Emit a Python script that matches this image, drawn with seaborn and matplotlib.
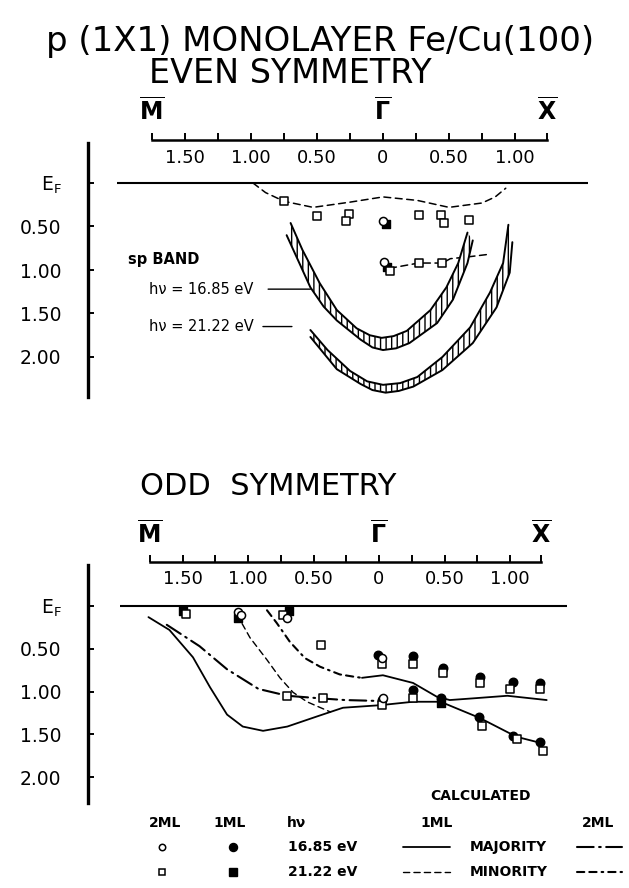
import numpy as np
import pandas as pd
import matplotlib
matplotlib.use("Agg")
import matplotlib.pyplot as plt
import seaborn as sns
from matplotlib.lines import Line2D

# ---------------------------------------------------------------- data ----
K_M, K_X = -1.75, 1.24                      # zone-boundary points (1/Angstrom)
k_ticks = [-1.75, -1.5, -1.25, -1.0, -0.75, -0.5, -0.25, 0.0,
           0.25, 0.5, 0.75, 1.0, 1.24]
k_ticklabels = ["", "1.50", "", "1.00", "", "0.50", "", "0",
                "", "0.50", "", "1.00", ""]
E_ticks = [0.0, 0.5, 1.0, 1.5, 2.0]
E_ticklabels = [r"E$_{\mathsf{F}}$", "0.50", "1.00", "1.50", "2.00"]
sym_k = [K_M, 0.0, K_X]
sym_labels = [r"$\overline{\mathbf{M}}$", r"$\overline{\mathbf{\Gamma}}$",
              r"$\overline{\mathbf{X}}$"]

# ---- EVEN symmetry ----
even_calc_k = [-0.985, -0.89, -0.75, -0.53, -0.25, 0.0, 0.26, 0.50, 0.75, 0.85, 0.93]
even_calc_E = [0.00, 0.11, 0.21, 0.28, 0.22, 0.16, 0.20, 0.28, 0.23, 0.16, 0.06]
even_link_k = [0.05, 0.27, 0.45, 0.51, 0.64, 0.80]
even_link_E = [0.98, 0.92, 0.92, 0.87, 0.85, 0.82]

even_sq2_k = [-0.75, -0.50, -0.26, -0.28, 0.27, 0.44, 0.46, 0.65, 0.05, 0.27, 0.45]
even_sq2_E = [0.21, 0.38, 0.36, 0.44, 0.37, 0.37, 0.46, 0.43, 1.01, 0.92, 0.92]
even_ci2_k = [0.00, 0.01]
even_ci2_E = [0.44, 0.91]
even_sq1_k = [0.02, 0.03]
even_sq1_E = [0.47, 0.97]

# sp bands (inner / outer edges of the hatched bands)
band1_in_k = [-0.70, -0.61, -0.48, -0.35, -0.20, -0.10, -0.01, 0.08, 0.18, 0.36, 0.48, 0.57, 0.64]
band1_in_E = [0.46, 0.77, 1.15, 1.46, 1.67, 1.75, 1.78, 1.76, 1.70, 1.46, 1.20, 0.92, 0.57]
band1_out_k = [-0.73, -0.64, -0.55, -0.45, -0.35, -0.17, -0.08, 0.00, 0.10, 0.20, 0.41, 0.53, 0.64, 0.68]
band1_out_E = [0.60, 0.90, 1.20, 1.42, 1.58, 1.80, 1.89, 1.92, 1.90, 1.84, 1.61, 1.34, 0.92, 0.66]
band2_in_k = [-0.55, -0.42, -0.25, -0.12, 0.00, 0.13, 0.26, 0.45, 0.66, 0.81, 0.91, 0.95]
band2_in_E = [1.69, 1.92, 2.16, 2.28, 2.32, 2.30, 2.23, 2.00, 1.66, 1.26, 0.92, 0.48]
band2_out_k = [-0.55, -0.35, -0.17, -0.08, 0.02, 0.12, 0.23, 0.45, 0.68, 0.86, 0.96, 0.98]
band2_out_E = [1.77, 2.14, 2.31, 2.38, 2.41, 2.39, 2.34, 2.15, 1.84, 1.43, 1.03, 0.68]

# ---- ODD symmetry : calculated ----
maj1a_k = [-1.76, -1.60, -1.42, -1.29, -1.16, -1.04, -0.885, -0.70, -0.47, -0.275,
           0.01, 0.26, 0.47, 0.77, 1.05, 1.23]
maj1a_E = [0.13, 0.28, 0.60, 0.95, 1.27, 1.41, 1.46, 1.41, 1.29, 1.19,
           1.16, 1.12, 1.12, 1.31, 1.53, 1.60]
maj1b_k = [-0.13, 0.03, 0.26, 0.44, 0.54, 0.72, 0.98, 1.28]
maj1b_E = [0.84, 0.81, 0.90, 1.06, 1.10, 1.08, 1.05, 1.10]
min1_k = [-1.084, -0.985, -0.855, -0.756, -0.656, -0.55, -0.37]
min1_E = [0.10, 0.37, 0.63, 0.84, 1.01, 1.12, 1.24]
maj2_k = [-1.62, -1.37, -1.16, -0.92, -0.70, -0.45, -0.26, -0.015]
maj2_E = [0.22, 0.47, 0.74, 0.97, 1.05, 1.08, 1.10, 1.11]
min2_k = [-0.855, -0.78, -0.68, -0.565, -0.45, -0.30, -0.18, -0.13]
min2_E = [0.05, 0.20, 0.42, 0.61, 0.71, 0.80, 0.83, 0.84]

# ---- ODD symmetry : measured ----
odd_ci1_k = [-0.01, 0.26, 0.49, 0.77, 1.02, 1.23, 0.02, 0.26, 0.47, 0.76, 1.02, 1.23]
odd_ci1_E = [0.57, 0.58, 0.73, 0.83, 0.89, 0.90, 1.10, 0.98, 1.08, 1.30, 1.52, 1.59]
odd_ci2_k = [-1.08, -1.05, -0.70, 0.02, 0.03]
odd_ci2_E = [0.07, 0.11, 0.14, 0.61, 1.08]
odd_sq2_k = [-1.47, -0.73, -0.44, 0.02, 0.26, 0.49, 0.77, 1.00, 1.23,
             -0.70, -0.43, 0.02, 0.26, 0.79, 1.05, 1.25]
odd_sq2_E = [0.09, 0.11, 0.46, 0.68, 0.68, 0.78, 0.90, 0.97, 0.97,
             1.05, 1.08, 1.16, 1.08, 1.40, 1.56, 1.70]
odd_sq1_k = [-1.50, -1.08, -0.69, 0.47]
odd_sq1_E = [0.06, 0.14, 0.06, 1.13]

# ---------------------------------------------------------------- style ----
sns.set_theme(style="white")
plt.rcParams["font.family"] = ["DejaVu Sans"]
plt.rcParams["mathtext.fontset"] = "dejavusans"
plt.rcParams["hatch.linewidth"] = 1.0
plt.rcParams["lines.dash_capstyle"] = "round"
plt.rcParams["text.color"] = "black"

LS_MIN1 = (0, (4.5, 3))
LS_MAJ2 = (0, (8, 2.6, 0.8, 2.6))
LS_MIN2 = (0, (3.5, 2.4, 3.5, 2.4, 0.8, 2.4))

OPEN_CI = dict(marker="o", s=34, color="white", edgecolor="black", linewidth=1.1)
FILL_CI = dict(marker="o", s=38, color="black", edgecolor="black", linewidth=1.0)
OPEN_SQ = dict(marker="s", s=32, color="white", edgecolor="black", linewidth=1.1)
FILL_SQ = dict(marker="s", s=32, color="black", edgecolor="black", linewidth=1.0)

W, H = 629, 888
fig = plt.figure(figsize=(W / 100, H / 100), dpi=100)
fig.patch.set_facecolor("white")


def fx(x):
    return x / W


def fy(y):
    return 1 - y / H


def add_panel(left, top, right, bottom, x0, kscale, y0, escale):
    ax = fig.add_axes([fx(left), fy(bottom), (right - left) / W, (bottom - top) / H])
    ax.set_xlim((left - x0) / kscale, (right - x0) / kscale)
    ax.set_ylim((bottom - y0) / escale, (top - y0) / escale)
    return ax


def decorate(ax, kaxis_E, spine_lo, spine_hi, sym_E, ef_lo, ef_hi):
    ax.set_facecolor("none")
    ax.grid(False)
    for s in ("top", "right"):
        ax.spines[s].set_visible(False)
    ax.spines["left"].set_bounds(spine_lo, spine_hi)
    ax.spines["left"].set_linewidth(2.4)
    ax.spines["bottom"].set_position(("data", kaxis_E))
    ax.spines["bottom"].set_bounds(K_M, K_X)
    ax.spines["bottom"].set_linewidth(1.8)
    for s in ("left", "bottom"):
        ax.spines[s].set_color("black")
    ax.set_xticks(k_ticks, k_ticklabels)
    ax.set_yticks(E_ticks, E_ticklabels)
    ax.tick_params(axis="x", bottom=True, direction="in", length=5, width=1.4,
                   pad=6, labelsize=13, colors="black")
    ax.tick_params(axis="y", left=True, direction="in", length=4, width=1.4,
                   pad=19, labelsize=13.5, colors="black")
    ax.hlines(0, ef_lo, ef_hi, color="black", lw=1.5, zorder=2)
    for k, lab in zip(sym_k, sym_labels):
        ax.text(k, sym_E, lab, ha="center", va="center", fontsize=17, color="black")


def line(ax, k, E, ls="-", lw=1.3, z=3):
    sns.lineplot(x=k, y=E, ax=ax, sort=False, estimator=None, color="black",
                 linewidth=lw, linestyle=ls, legend=False, zorder=z)


def pts(ax, k, E, style):
    sns.scatterplot(x=k, y=E, ax=ax, legend=False, zorder=6, **style)


def band(ax, k_in, E_in, k_out, E_out):
    ax.fill(np.r_[k_in, k_out[::-1]], np.r_[E_in, E_out[::-1]],
            facecolor="white", edgecolor="black", linewidth=0, hatch="|||", zorder=4)
    line(ax, k_in, E_in, lw=1.4, z=5)
    line(ax, k_out, E_out, lw=1.4, z=5)


# ---------------------------------------------------------------- titles ----
fig.text(fx(320), fy(51), "p (1X1) MONOLAYER Fe/Cu(100)", ha="center",
         va="baseline", fontsize=24.5, color="black")
fig.text(fx(290), fy(83), "EVEN SYMMETRY", ha="center", va="baseline",
         fontsize=24, color="black")
fig.text(fx(268), fy(495), "ODD  SYMMETRY", ha="center", va="baseline",
         fontsize=22, color="black")

# ---------------------------------------------------------------- top panel ----
axt = add_panel(88, 95, 600, 402, 383, 132, 183, 87)
line(axt, even_calc_k, even_calc_E, ls=LS_MIN1, lw=1.1)
line(axt, even_link_k, even_link_E, ls=LS_MIN1, lw=1.1)
band(axt, np.array(band1_in_k), np.array(band1_in_E),
     np.array(band1_out_k), np.array(band1_out_E))
band(axt, np.array(band2_in_k), np.array(band2_in_E),
     np.array(band2_out_k), np.array(band2_out_E))
pts(axt, even_sq1_k, even_sq1_E, FILL_SQ)
pts(axt, even_sq2_k, even_sq2_E, OPEN_SQ)
pts(axt, even_ci2_k, even_ci2_E, OPEN_CI)
axt.text(-1.93, 0.885, "sp BAND", ha="left", va="center", fontsize=10.5,
         fontweight="bold", color="black")
axt.annotate("h\u03bd = 16.85 eV", xy=(-0.55, 1.22), xytext=(-1.77, 1.22),
             ha="left", va="center", fontsize=10.5, color="black",
             arrowprops=dict(arrowstyle="-", lw=1.0, color="black",
                             shrinkA=8, shrinkB=0))
axt.annotate("h\u03bd = 21.22 eV", xy=(-0.69, 1.65), xytext=(-1.77, 1.65),
             ha="left", va="center", fontsize=10.5, color="black",
             arrowprops=dict(arrowstyle="-", lw=1.0, color="black",
                             shrinkA=4, shrinkB=0))
decorate(axt, -0.49, -0.46, 2.46, -0.82, -2.015, 1.553)

# ---------------------------------------------------------------- bottom panel ----
axb = add_panel(88, 520, 600, 806, 379, 131, 606, 85.5)
line(axb, maj1a_k, maj1a_E, lw=1.3)
line(axb, maj1b_k, maj1b_E, lw=1.3)
line(axb, min1_k, min1_E, ls=LS_MIN1, lw=1.0)
line(axb, maj2_k, maj2_E, ls=LS_MAJ2, lw=1.5)
line(axb, min2_k, min2_E, ls=LS_MIN2, lw=1.5)
pts(axb, odd_sq1_k, odd_sq1_E, FILL_SQ)
pts(axb, odd_ci1_k, odd_ci1_E, FILL_CI)
pts(axb, odd_sq2_k, odd_sq2_E, OPEN_SQ)
pts(axb, odd_ci2_k, odd_ci2_E, OPEN_CI)
decorate(axb, -0.515, -0.48, 2.30, -0.83, -1.977, 1.435)

# ---------------------------------------------------------------- key ----
KEY = dict(fontsize=10, fontweight="bold", va="center", color="black")
fig.text(fx(430), fy(796), "CALCULATED", ha="left", **KEY)
for xc, lab in [(165, "2ML"), (230, "1ML"), (296, "h\u03bd"), (437, "1ML"), (598, "2ML")]:
    fig.text(fx(xc), fy(823), lab, ha="center", **KEY)
rows = [
    (847, OPEN_CI, FILL_CI, "16.85 eV", "-", 1.3, "MAJORITY", LS_MAJ2),
    (872, OPEN_SQ, FILL_SQ, "21.22 eV", LS_MIN1, 1.0, "MINORITY", LS_MIN2),
]
for y, st2, st1, hv, ls1, lw1, name, ls2 in rows:
    for xm, st, msz in [(162, st2, 4.6), (233, st1, 5.8)]:
        fig.add_artist(Line2D([fx(xm)], [fy(y)], marker=st["marker"], linestyle="none",
                              markersize=msz,
                              markerfacecolor=st["color"], markeredgecolor="black",
                              markeredgewidth=st["linewidth"]))
    fig.text(fx(288), fy(y), hv, ha="left", **KEY)
    fig.add_artist(Line2D([fx(403), fx(450)], [fy(y), fy(y)], color="black",
                          linestyle=ls1, linewidth=lw1))
    fig.text(fx(470), fy(y), name, ha="left", **KEY)
    fig.add_artist(Line2D([fx(577), fx(622)], [fy(y), fy(y)], color="black",
                          linestyle=ls2, linewidth=1.5))

fig.savefig("out.png", dpi=100, facecolor="white")
